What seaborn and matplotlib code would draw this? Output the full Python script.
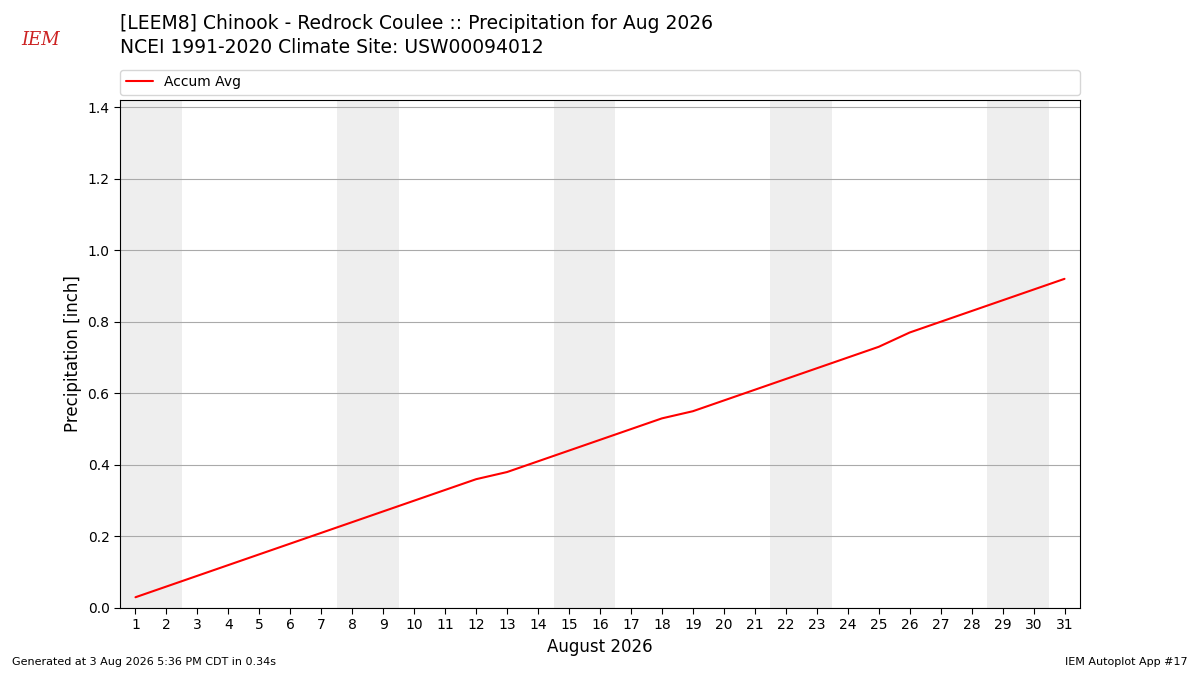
import matplotlib
matplotlib.use("Agg")
import matplotlib.pyplot as plt
import seaborn as sns
import pandas as pd

days = list(range(1, 32))
accum = [0.03,0.06,0.09,0.12,0.15,0.18,0.21,0.24,0.27,0.30,0.33,0.36,0.38,0.41,0.44,0.47,
         0.50,0.53,0.55,0.58,0.61,0.64,0.67,0.70,0.73,0.77,0.80,0.83,0.86,0.89,0.92]
weekend_starts = [1, 8, 15, 22, 29]
df = pd.DataFrame({"day": days, "accum": accum})

sns.set_style("white")
plt.rcParams['font.family'] = ['DejaVu Sans']
plt.rcParams.update({"text.color": "black", "axes.labelcolor": "black",
                     "xtick.color": "black", "ytick.color": "black"})
fig = plt.figure(figsize=(12, 6.75), dpi=100)
ax = fig.add_axes([0.1, 0.0993, 0.8, 0.7526])
for s in weekend_starts:
    ax.axvspan(s - 0.5, s + 1.5, color="#eeeeee", zorder=0, lw=0)
sns.lineplot(data=df, x="day", y="accum", color="red", ax=ax, label="Accum Avg", lw=1.5)
ax.set_xlim(0.5, 31.5)
ax.set_ylim(0, 1.42)
ax.set_xticks(days)
ax.set_yticks([0, 0.2, 0.4, 0.6, 0.8, 1.0, 1.2, 1.4])
ax.set_yticklabels([f"{v:.1f}" for v in [0, 0.2, 0.4, 0.6, 0.8, 1.0, 1.2, 1.4]])
ax.yaxis.grid(True, color="#aaaaaa", lw=0.8)
ax.set_axisbelow(True)
ax.tick_params(axis="both", direction="out", length=4, left=True, bottom=True, labelsize=10, colors="black")
for sp in ax.spines.values():
    sp.set_color("black")
    sp.set_linewidth(0.8)
ax.set_xlabel("August 2026", fontsize=12, color="black")
ax.set_ylabel("Precipitation [inch]", fontsize=12, color="black")
leg = ax.legend(loc="lower left", bbox_to_anchor=(0, 1.01, 1, 0.05), mode="expand", ncol=1,
          frameon=True, fontsize=10, borderaxespad=0)
for t in leg.get_texts():
    t.set_color("black")
fig.text(0.1, 0.965, "[LEEM8] Chinook - Redrock Coulee :: Precipitation for Aug 2026", fontsize=13.5, va="center", color="black")
fig.text(0.1, 0.93, "NCEI 1991-2020 Climate Site: USW00094012", fontsize=13.5, va="center", color="black")
fig.text(0.018, 0.933, "IEM", fontsize=13, color="#cc2222", style="italic", family="serif")
fig.text(0.01, 0.015, "Generated at 3 Aug 2026 5:36 PM CDT in 0.34s", fontsize=8, color="black")
fig.text(0.99, 0.015, "IEM Autoplot App #17", fontsize=8, ha="right", color="black")
fig.savefig("out.png", dpi=100)
